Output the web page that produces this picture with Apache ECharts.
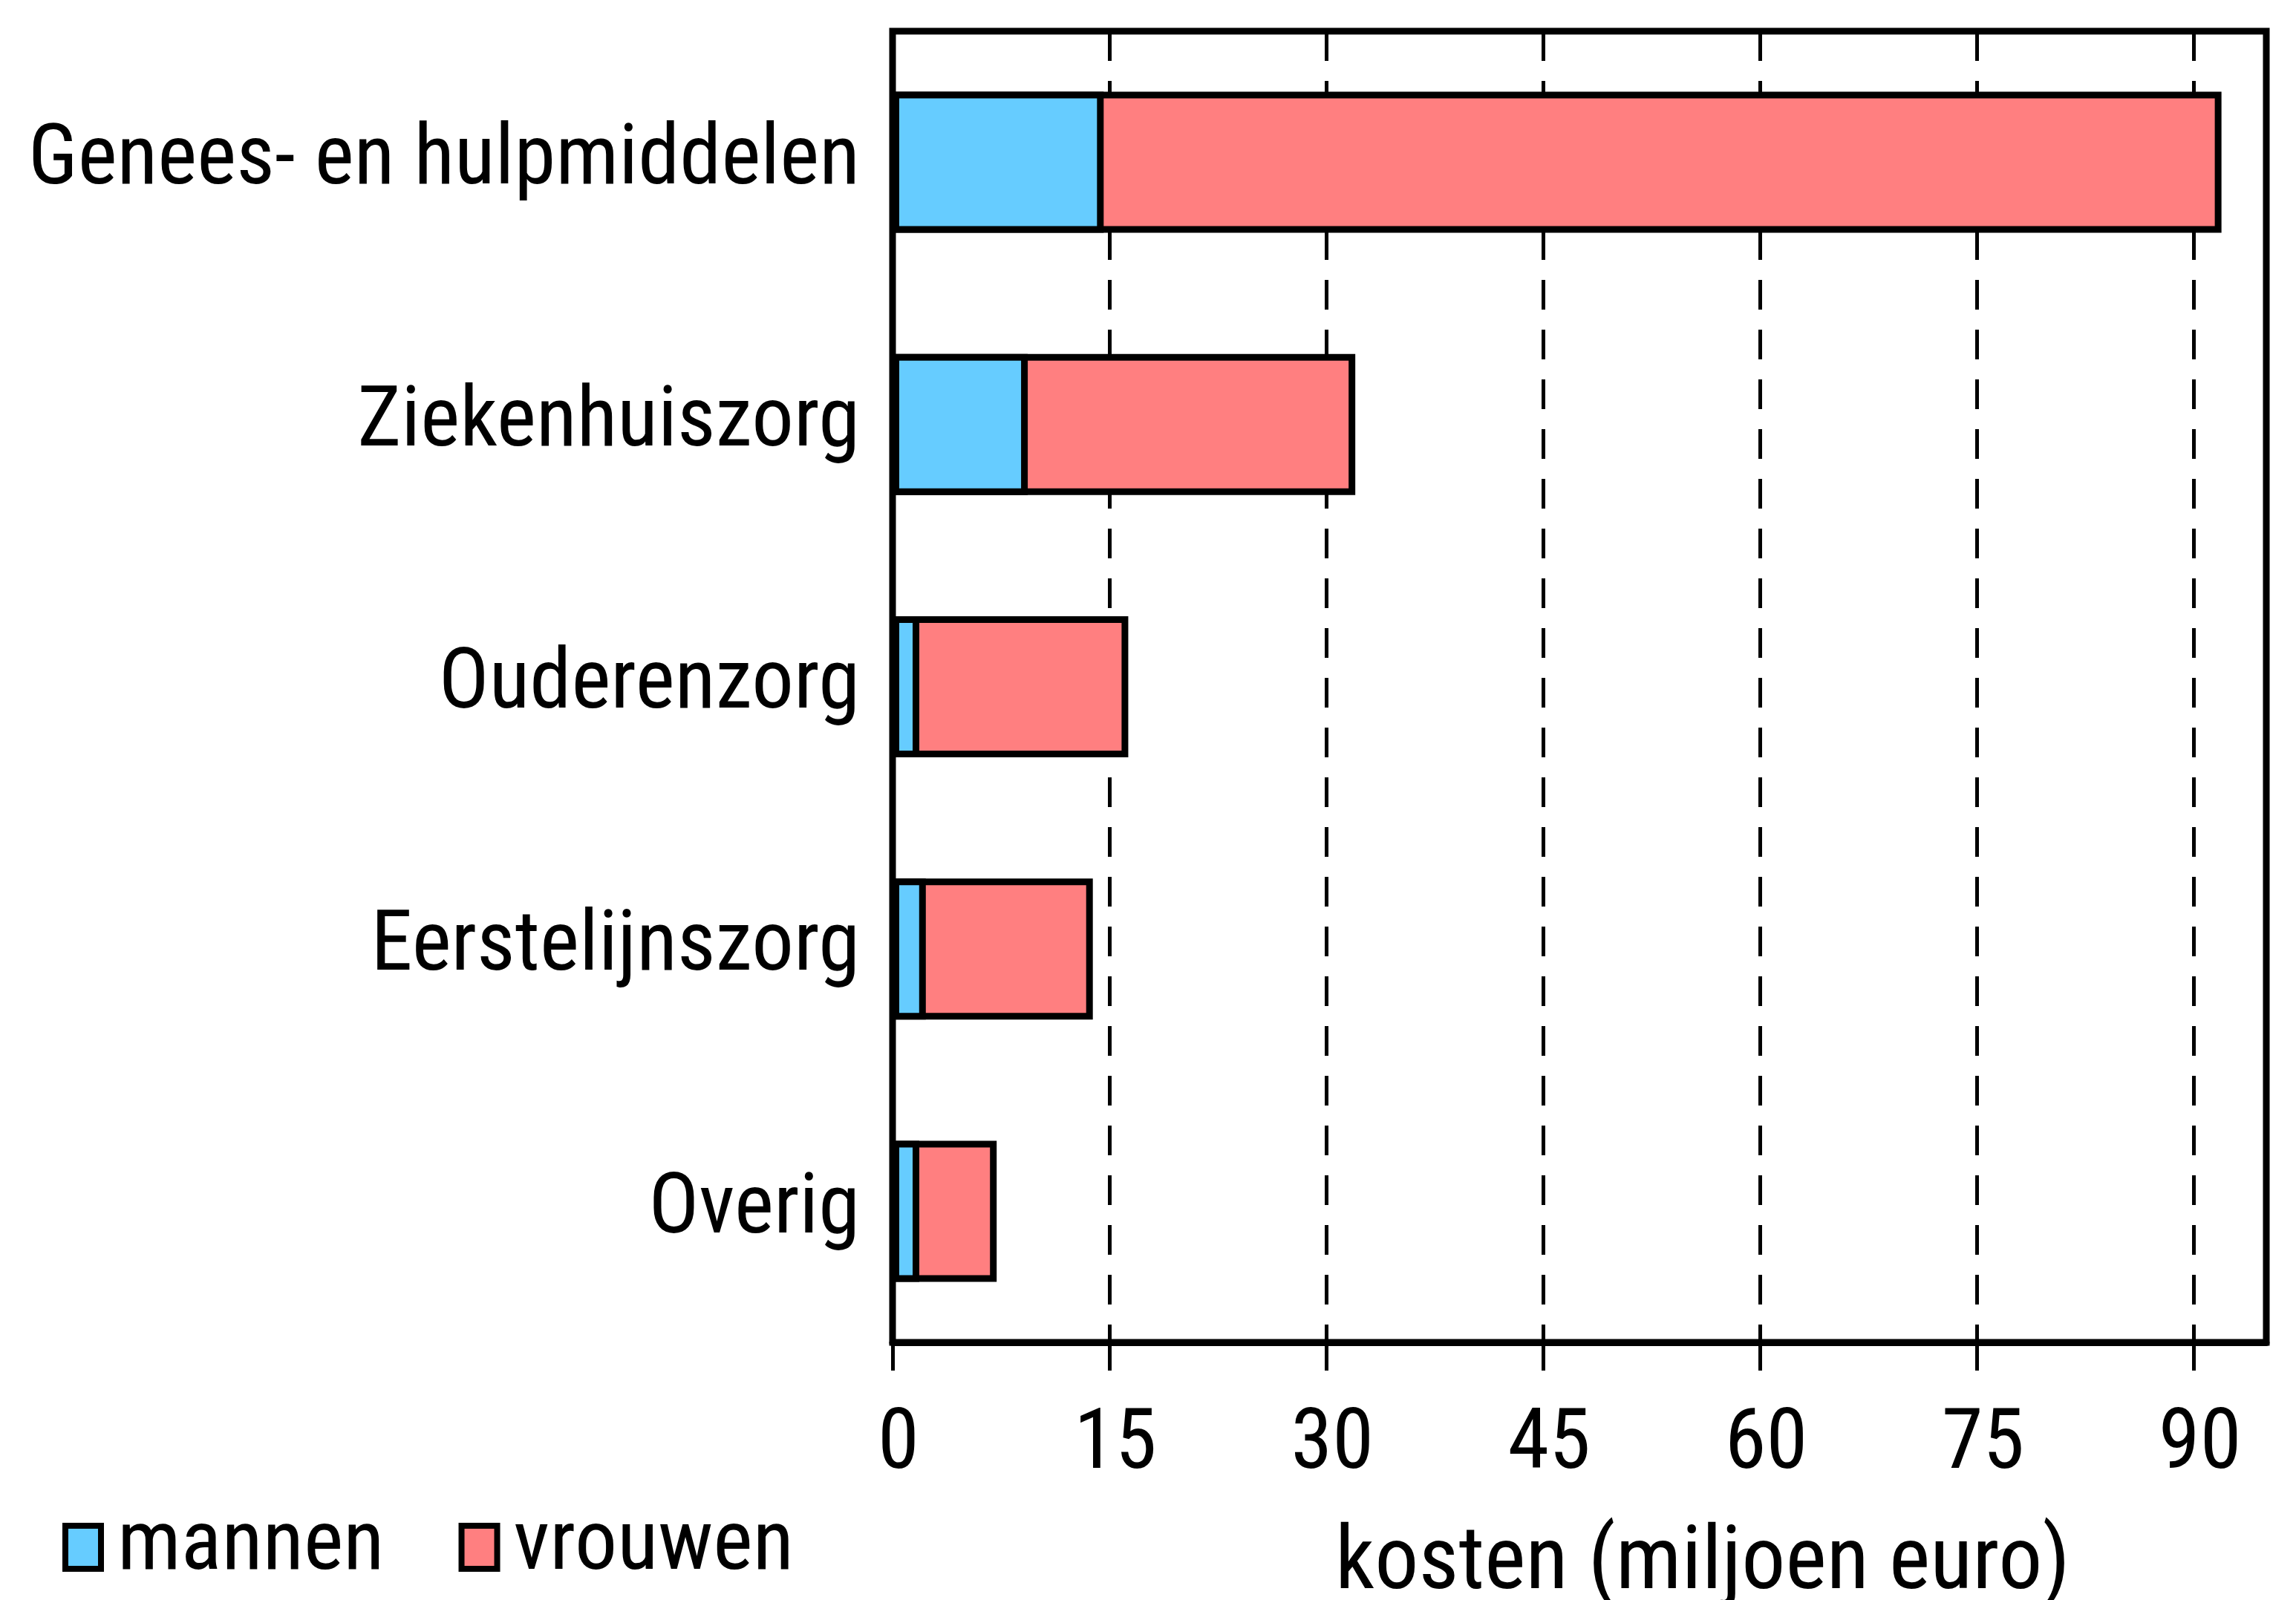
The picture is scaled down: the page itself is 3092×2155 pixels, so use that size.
<!DOCTYPE html>
<html>
<head>
<meta charset="utf-8">
<script src="https://cdn.jsdelivr.net/npm/echarts@6/dist/echarts.min.js"></script>
<style>
html,body{margin:0;padding:0;background:#fff;}
#chart{width:3092px;height:2155px;}
</style>
</head>
<body>
<div id="chart"></div>
<script>
const categories = ['Genees- en hulpmiddelen', 'Ziekenhuiszorg', 'Ouderenzorg', 'Eerstelijnszorg', 'Overig'];
const mannen = [14.6, 9.35, 1.85, 2.3, 1.85];
const vrouwen = [77.3, 22.65, 14.45, 11.55, 5.35];
const xTicks = [0, 15, 30, 45, 60, 75, 90];
const seriesNames = ['mannen', 'vrouwen'];
const axisTitle = 'kosten (miljoen euro)';

// stacked appearance: the vrouwen segment sits after mannen, so its bar ends at the sum
const stackEnds = mannen.map((m, i) => +(m + vrouwen[i]).toFixed(2));

const FONT = '"Roboto Condensed", "Liberation Sans", sans-serif';
const FS = 113;
const chart = echarts.init(document.getElementById('chart'), null, {renderer: 'canvas'});
chart.setOption({
  backgroundColor: '#ffffff',
  animation: false,
  textStyle: {fontFamily: FONT, color: '#000'},
  grid: {
    left: 1202, right: 40, top: 42, bottom: 347,
    outerBoundsMode: 'none', containLabel: false,
    show: true, borderColor: '#000', borderWidth: 9, backgroundColor: 'transparent'
  },
  legend: {
    left: 84, top: 2027, padding: 0,
    itemWidth: 48, itemHeight: 58, itemGap: 100,
    icon: 'rect',
    data: seriesNames,
    itemStyle: {borderColor: '#000', borderWidth: 8},
    textStyle: {fontFamily: FONT, fontSize: 114, color: '#000', padding: [8, 0, 0, 17]}
  },
  xAxis: {
    type: 'value', min: 0, max: 95, interval: 15,
    name: axisTitle, nameLocation: 'middle', nameGap: 242,
    nameTextStyle: {fontFamily: FONT, fontSize: 118, color: '#000', padding: [0, 0, 0, 332]},
    axisLine: {show: true, lineStyle: {color: '#000', width: 9}},
    axisTick: {show: true, length: 38, lineStyle: {color: '#000', width: 5}, customValues: xTicks},
    axisLabel: {fontFamily: FONT, fontSize: FS, color: '#000', margin: 84, customValues: xTicks, padding: [0, 0, 0, 16]},
    splitLine: {show: true, lineStyle: {color: '#000', width: 5, type: [40, 27]}}
  },
  yAxis: {
    type: 'category', data: categories, inverse: true,
    axisLine: {show: true, lineStyle: {color: '#000', width: 8}},
    axisTick: {show: false},
    axisLabel: {fontFamily: FONT, fontSize: FS, color: '#000', margin: 44}
  },
  series: [
    {
      name: seriesNames[1], type: 'bar', data: stackEnds, barWidth: 190, z: 2,
      itemStyle: {color: '#FF7F80', borderColor: '#000', borderWidth: 9}
    },
    {
      name: seriesNames[0], type: 'bar', data: mannen, barWidth: 190, barGap: '-100%', z: 3,
      itemStyle: {color: '#66CCFF', borderColor: '#000', borderWidth: 9}
    }
  ]
});
</script>
</body>
</html>
